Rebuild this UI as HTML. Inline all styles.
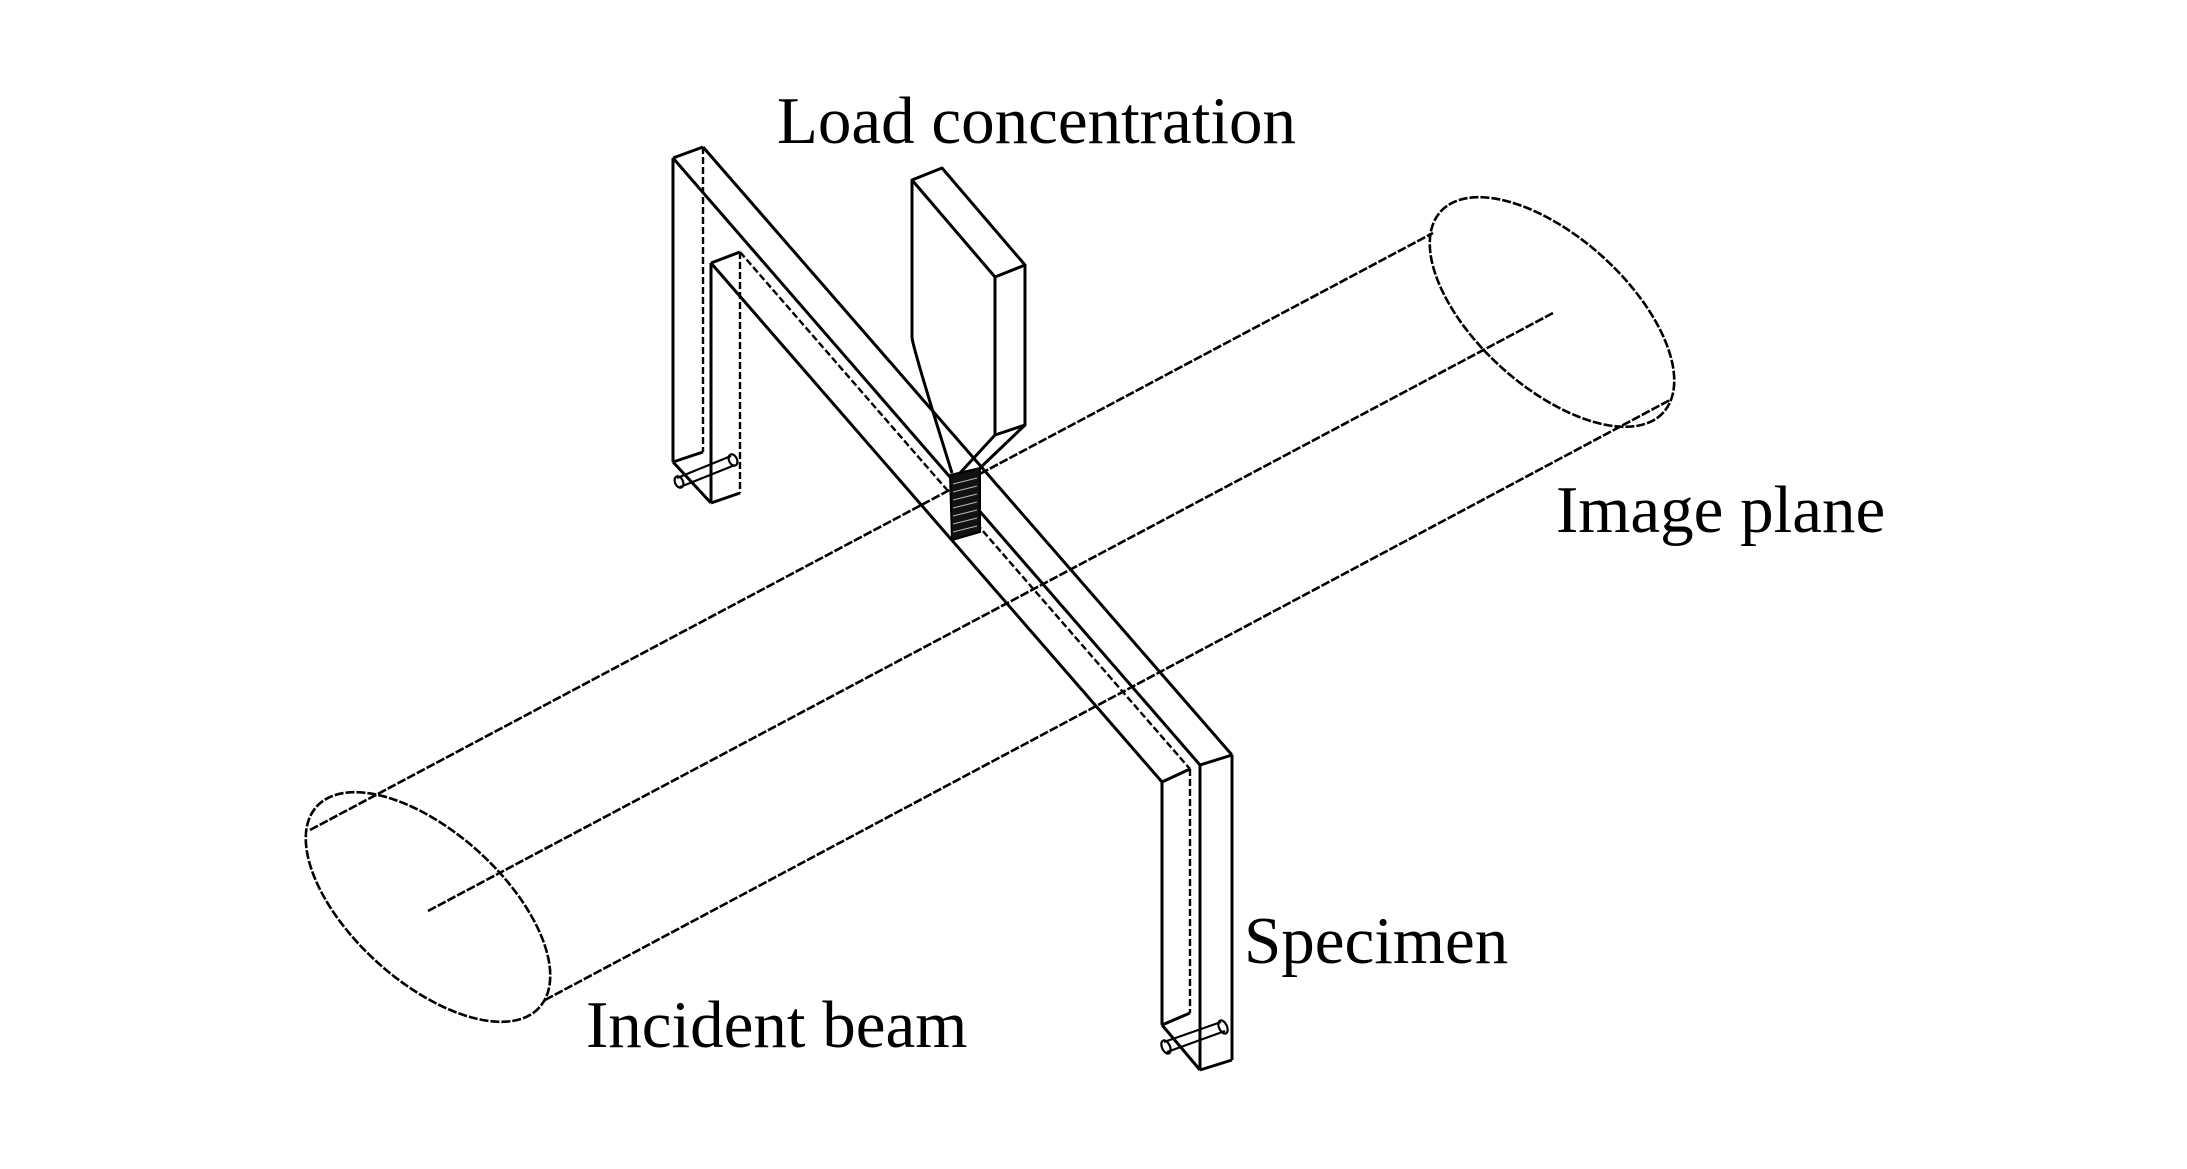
<!DOCTYPE html>
<html><head><meta charset="utf-8"><style>
html,body{margin:0;padding:0;background:#fff;}
svg{display:block;}
text{font-family:"Liberation Serif",serif;font-size:67px;fill:#000;}
</style></head><body>
<svg width="2187" height="1169" viewBox="0 0 2187 1169" xmlns="http://www.w3.org/2000/svg">
<g fill="none" stroke="#000" stroke-width="2.6" stroke-dasharray="9 2">
  <ellipse cx="1552" cy="312" rx="150" ry="75" transform="rotate(42 1552 312)"/>
  <ellipse cx="428" cy="907" rx="150" ry="75" transform="rotate(42 428 907)"/>
  <line x1="310" y1="830" x2="1433" y2="233"/>
  <line x1="545" y1="1000" x2="1670" y2="400"/>
  <line x1="428" y1="911" x2="1553" y2="313"/>
</g>
<g fill="none" stroke="#000" stroke-width="3" stroke-linejoin="round">
  <!-- left vertical -->
  <line x1="673" y1="158" x2="703" y2="147"/>
  <line x1="673" y1="158" x2="673" y2="462"/>
  <line x1="711" y1="263" x2="711" y2="503"/>
  <line x1="711" y1="263" x2="740" y2="252"/>
  <line x1="673" y1="462" x2="711" y2="503"/>
  <line x1="711" y1="503" x2="740" y2="493"/>
  <line x1="673" y1="462" x2="703" y2="452"/>
  <!-- diagonal -->
  <line x1="673" y1="158" x2="1200" y2="765"/>
  <line x1="703" y1="147" x2="1232" y2="755"/>
  <line x1="711" y1="263" x2="1162" y2="782"/>
  <!-- right vertical -->
  <line x1="1162" y1="782" x2="1190" y2="769"/>
  <line x1="1200" y1="765" x2="1232" y2="755"/>
  <line x1="1162" y1="782" x2="1162" y2="1025"/>
  <line x1="1200" y1="765" x2="1200" y2="1070"/>
  <line x1="1232" y1="755" x2="1232" y2="1060"/>
  <line x1="1162" y1="1025" x2="1200" y2="1070"/>
  <line x1="1200" y1="1070" x2="1232" y2="1060"/>
  <line x1="1162" y1="1025" x2="1190" y2="1013"/>
  <!-- load block -->
  <polyline points="912,338 912,180 942,168 1025,265 1025,425 995,435 995,277 912,180"/>
  <line x1="995" y1="277" x2="1025" y2="265"/>
  <path d="M912,338 Q915,355 952,473"/>
  <line x1="995" y1="435" x2="960" y2="473"/>
  <line x1="1025" y1="425" x2="980" y2="468"/>
</g>
<g fill="none" stroke="#000" stroke-width="2.4" stroke-dasharray="7 3">
  <line x1="703" y1="147" x2="703" y2="452"/>
  <line x1="740" y1="252" x2="740" y2="493"/>
  <line x1="740" y1="252" x2="1190" y2="769"/>
  <line x1="1190" y1="769" x2="1190" y2="1013"/>
</g>
<!-- pins -->
<g fill="none" stroke="#000" stroke-width="2.2">
  <line x1="677" y1="478" x2="731" y2="456"/>
  <line x1="680" y1="487" x2="735" y2="465"/>
  <ellipse cx="679" cy="482" rx="4" ry="6" transform="rotate(-25 679 482)"/>
  <ellipse cx="733" cy="460" rx="4" ry="6" transform="rotate(-25 733 460)"/>
  <line x1="1164" y1="1042" x2="1221" y2="1022"/>
  <line x1="1167" y1="1052" x2="1225" y2="1031"/>
  <ellipse cx="1166" cy="1047" rx="4" ry="7" transform="rotate(-25 1166 1047)"/>
  <ellipse cx="1223" cy="1027" rx="4" ry="7" transform="rotate(-25 1223 1027)"/>
</g>
<!-- hatch -->
<polygon points="950,475 980,468 980,532 952,540" fill="#111" stroke="#000" stroke-width="2"/>
<g stroke="#fff" stroke-width="1" opacity="0.7">
  <line x1="953" y1="484" x2="977" y2="478"/>
  <line x1="953" y1="492" x2="977" y2="486"/>
  <line x1="953" y1="500" x2="977" y2="494"/>
  <line x1="953" y1="508" x2="977" y2="502"/>
  <line x1="953" y1="516" x2="977" y2="510"/>
  <line x1="953" y1="524" x2="977" y2="518"/>
  <line x1="953" y1="532" x2="977" y2="526"/>
</g>
<text x="777" y="143">Load concentration</text>
<text x="1556" y="532">Image plane</text>
<text x="1244" y="963">Specimen</text>
<text x="586" y="1047">Incident beam</text>
</svg>
</body></html>
